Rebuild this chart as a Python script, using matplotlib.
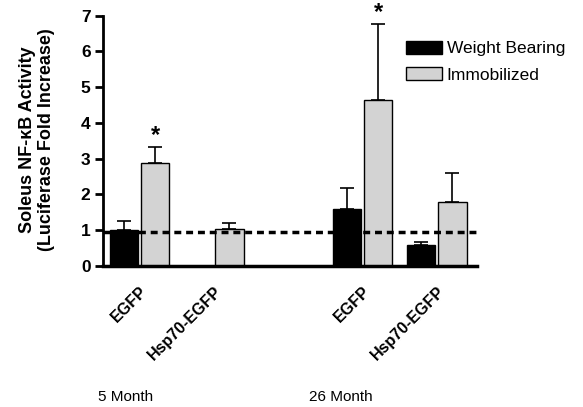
import numpy as np
import matplotlib
matplotlib.use('agg')
import matplotlib.pyplot as plt
from matplotlib.patches import Patch

plt.rcParams['font.family'] = ['Liberation Sans', 'DejaVu Sans']

groups = ['EGFP', 'Hsp70-EGFP', 'EGFP', 'Hsp70-EGFP']
ages = ['5 Month', '26 Month']
weight_bearing = [1.0, np.nan, 1.58, 0.58]
weight_bearing_err = [0.25, np.nan, 0.60, 0.08]
immobilized = [2.88, 1.03, 4.64, 1.79]
immobilized_err = [0.45, 0.17, 2.12, 0.80]
significant = [True, False, True, False]

pos = np.array([0, 1, 3, 4])
age_pos = [-0.19, 2.71]
w = 0.38
off = 0.21

fig = plt.figure(figsize=[5.83, 4.07], dpi=100)
ax = fig.add_axes([103/583, 1-265.7/407, 374/583, 250/407])

ax.bar(pos - off, weight_bearing, w, color='black', edgecolor='black', lw=1)
ax.bar(pos + off, immobilized, w, color='#d3d3d3', edgecolor='black', lw=1)
ax.errorbar(pos - off, weight_bearing, yerr=[np.zeros(4), weight_bearing_err],
            fmt='none', ecolor='black', elinewidth=1.2, capsize=5, capthick=1.2)
ax.errorbar(pos + off, immobilized, yerr=[np.zeros(4), immobilized_err],
            fmt='none', ecolor='black', elinewidth=1.2, capsize=5, capthick=1.2)

for p, v, e, s in zip(pos, immobilized, immobilized_err, significant):
    if s:
        ax.text(p + off, v + e, '*', ha='center', va='bottom',
                fontsize=17, fontweight='bold')

# reference line, sits a touch under 1
ax.axhline(0.95, color='black', lw=2.5, ls=(0, (2, 1.4)), zorder=5)

ax.set_xlim(-0.49, 4.54)
ax.set_ylim(0, 7)
ax.set_yticks(range(8))
ax.tick_params(axis='y', length=6, width=2, labelsize=12.5, pad=3)
for t in ax.get_yticklabels():
    t.set_fontweight('bold')
ax.set_xticks(pos)
ax.set_xticklabels(groups, rotation=45, ha='right', va='top',
                   rotation_mode='anchor', fontsize=11.5, fontweight='bold')
ax.tick_params(axis='x', length=0, pad=13)

for sp in ['top', 'right']:
    ax.spines[sp].set_visible(False)
ax.spines['left'].set_linewidth(2)
ax.spines['bottom'].set_linewidth(2.5)

for a, x in zip(ages, age_pos):
    ax.text(x, -0.525, a, transform=ax.get_xaxis_transform(), ha='center',
            va='center', fontsize=11)

fig.text(37/583, 1-140/407,
         'Soleus NF-\u03baB Activity\n(Luciferase Fold Increase)',
         rotation=90, ha='center', va='center', ma='center',
         fontsize=13, fontweight='bold', linespacing=1.2)

handles = [Patch(facecolor='black', edgecolor='black'),
           Patch(facecolor='#d3d3d3', edgecolor='black')]
fig.legend(handles, ['Weight Bearing', 'Immobilized'], loc='upper left',
           bbox_to_anchor=(406/583, 1-41/407), frameon=False, fontsize=12.5,
           borderpad=0, handlelength=2.05, handleheight=0.75,
           handletextpad=0.3, labelspacing=0.62, borderaxespad=0)

fig.savefig('out.png', dpi=100)
